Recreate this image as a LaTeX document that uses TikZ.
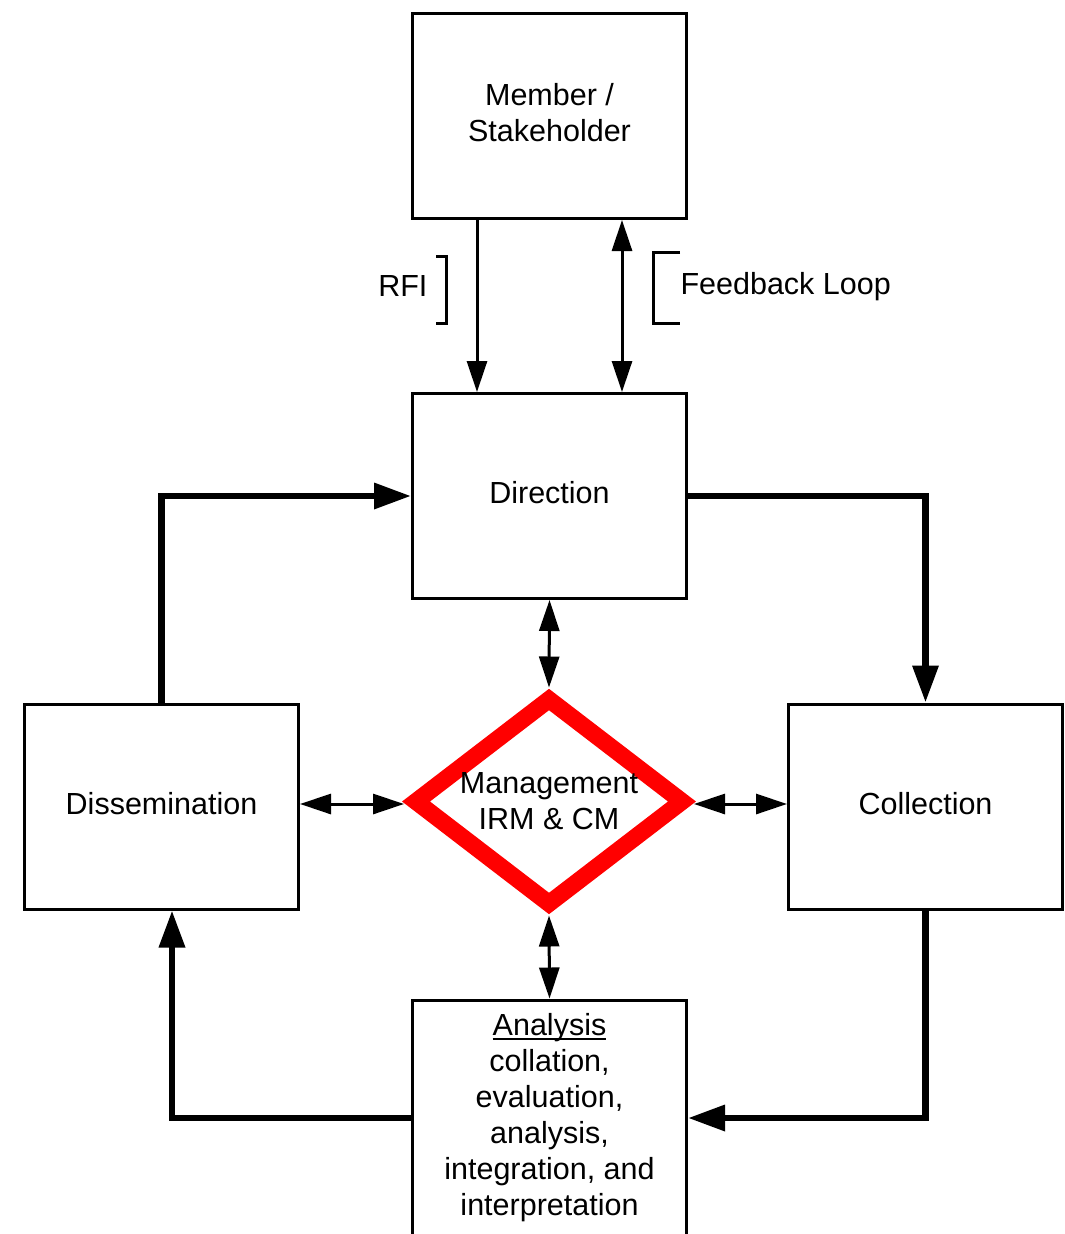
\documentclass[tikz,border=0pt]{standalone}
\usepackage{fontspec}
\setmainfont{Liberation Sans}
\usetikzlibrary{arrows.meta,shapes.geometric}
% underline drawn a little below the baseline, through descenders
\newcommand{\lineunder}[1]{\setbox0=\hbox{#1}\rlap{\rule[-4pt]{\wd0}{1.6pt}}\box0}

\begin{document}
\begin{tikzpicture}[x=1pt,y=-1pt,
  txt/.style={font=\fontsize{30.5}{36}\selectfont, align=center},
  stage/.style={draw, line width=3pt, minimum width=274pt, minimum height=205pt, inner sep=0pt, text depth=7pt, txt},
  hub/.style={diamond, draw=red, line width=17pt, minimum width=273pt, minimum height=211pt, inner sep=0pt},
  link/.style={line width=3pt, -{Triangle[length=31pt,width=20pt]}},
  duplex/.style={line width=3pt, {Triangle[length=31pt,width=20pt]}-{Triangle[length=31pt,width=20pt]}},
  flow/.style={line width=6.5pt, line join=miter, -{Triangle[length=37pt,width=25pt]}},
  bracket/.style={line width=3pt, line join=miter}
]
\useasboundingbox (0,0) rectangle (1065,1234);

% stages of the cycle
\node[stage] (mem) at (549.5,116) {Member /\\Stakeholder};
\node[stage] (dir) at (549.5,496) {Direction};
\node[stage] (dis) at (161.5,806.5) {Dissemination};
\node[stage] (col) at (925.5,806.5) {Collection};
\node[stage, minimum height=236pt, text depth=] (ana) at (549.5,1118)
  {\lineunder{Analysis}\\collation,\\evaluation,\\analysis,\\integration, and\\interpretation};

% central management hub
\node[hub, label={[txt]center:Management\\IRM \& CM}] (hub) at (549,801.5) {};

% request and feedback between stakeholder and direction
\draw[link] ([xshift=-72.5pt]mem.south) -- ([xshift=-72.5pt]dir.north);
\draw[duplex] ([xshift=72.5pt]mem.south) -- ([xshift=72.5pt]dir.north);

\node[txt, anchor=east] (rfi) at (431,286) {RFI};
\draw[bracket] (436,256) -- (446,256) -- (446,323) -- (436,323);
\node[txt, anchor=west] (fbl) at (677,287) {Feedback Loop};
\draw[bracket] (680,252) -- (653,252) -- (653,323) -- (680,323);

% main cycle
\draw[flow] (dir.east) -| (col.north);
\draw[flow] (col.south) |- (ana.east);
\draw[flow] (ana.west) -| ([xshift=10.5pt]dis.south);
\draw[flow] (dis.north) |- (dir.west);

% links to the hub
\draw[duplex] (dir.south) -- (hub.north);
\draw[duplex] (hub.south) -- (ana.north);
\draw[duplex] ([yshift=-2.5pt]hub.west -| dis.east) -- ([yshift=-2.5pt]hub.west);
\draw[duplex] ([yshift=-2.5pt]hub.east) -- ([yshift=-2.5pt]hub.east -| col.west);
\end{tikzpicture}
\end{document}
